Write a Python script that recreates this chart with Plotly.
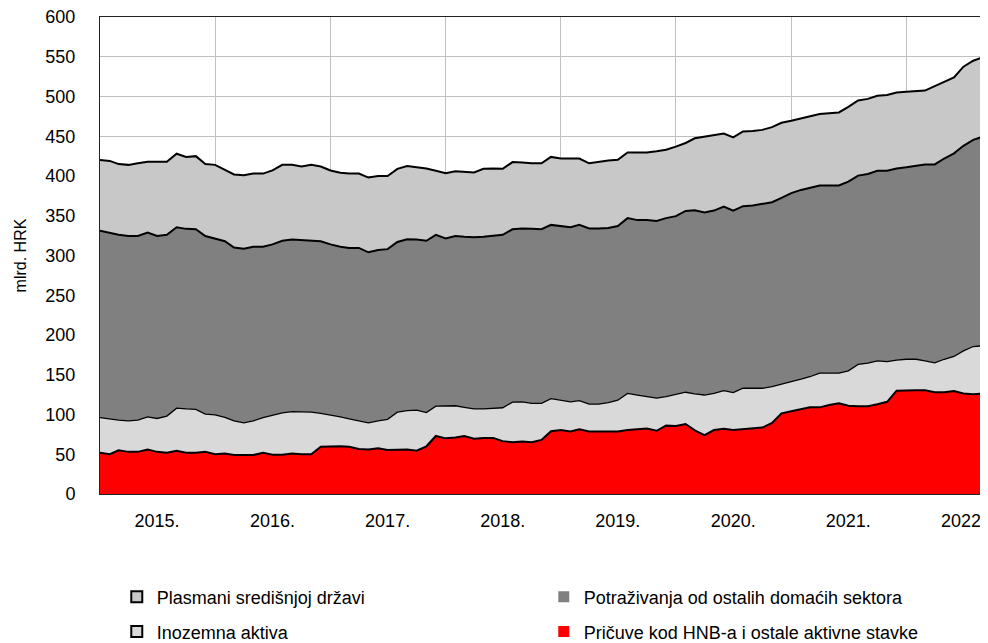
import pandas as pd
import plotly.graph_objects as go

# mjesečni podaci, mlrd. HRK (od siječnja 2015.)
POCETAK = "2015-01-01"

pricuve = [
    52, 50, 55, 53, 53, 56, 53, 52, 54.5, 52,
    52, 53, 50, 51, 49, 49, 49, 52, 49.5, 49.5,
    51, 50, 50, 59.5, 60, 60, 59.5, 56.5, 56, 57.5,
    55.5, 55.5, 56, 54.5, 60, 73, 70, 71, 73, 69.5,
    70.5, 70.5, 66.5, 65, 66, 65, 68, 79, 80.5, 78.5,
    81.5, 78.5, 78.5, 78.5, 78.5, 80.5, 81.5, 82.5, 79.5, 86,
    85.5, 88, 80, 74, 80.5, 82, 80.5, 81.5, 82, 83.5,
    89.5, 101.5, 104, 106.5, 109, 109, 112, 114, 111, 110.5,
    110.5, 113, 116, 130, 130.5, 130.5, 130.5, 128, 128, 129.5,
    126.5, 125.5, 126.5,
]
inozemna = [
    44, 44, 38, 39, 40, 41, 42, 46, 53.5, 55,
    54.5, 47.5, 49.5, 45.5, 43, 40.5, 43, 44, 49, 52.5,
    52.5, 53, 53, 42, 39.5, 37, 35, 35.5, 33.5, 34.5,
    38.5, 47.5, 49, 51, 42.5, 37.5, 41, 40, 36, 37.5,
    36.5, 37, 42, 50.5, 50, 49, 46, 41, 37.5, 37.5,
    36, 34.5, 34.5, 36.5, 39.5, 46, 43, 40, 41, 36.5,
    40, 40, 46, 50.5, 46, 48, 47, 51.5, 51, 49.5,
    45.5, 37, 37.5, 38, 38.5, 43, 40, 38, 44, 52.5,
    54, 54.5, 50.5, 38.5, 39, 39, 37, 37, 41.5, 43.5,
    53.5, 60, 60,
]
potrazivanja = [
    235, 234, 233, 232.5, 231.5, 232, 229.5, 228, 227.5, 226.5,
    226.5, 224, 222, 221.5, 218, 219, 219, 215, 215.5, 216.5,
    216.5, 216.5, 216, 216.5, 214.5, 214, 215, 217.5, 214.5, 215,
    214, 214, 215.5, 214.5, 216, 215.5, 210.5, 213.5, 214.5, 216,
    216.5, 217.5, 217.5, 217.5, 218, 219.5, 219, 218.5, 219, 219.5,
    221, 221, 221, 219.5, 219, 220.5, 220, 222, 223, 224.5,
    224, 228, 231, 229.5, 230, 231.5, 229, 229, 230, 231.5,
    232, 234, 237, 238, 238, 236, 236, 236, 238, 237.5,
    238, 239, 240, 241, 241.5, 243, 247, 249.5, 252.5, 255.5,
    258, 260, 263,
]
plasmani = [
    89, 91, 89, 89.5, 91.5, 89, 93.5, 92, 92.5, 90.5,
    92, 90.5, 92.5, 90, 92, 92.5, 92, 92, 93, 95.5,
    94, 92.5, 95, 94, 93, 93, 93.5, 93.5, 94, 93,
    92, 92, 92, 91, 91, 80.5, 82, 81.5, 82, 81.5,
    85.5, 84.5, 83, 84.5, 83, 82.5, 83, 85.5, 85, 86.5,
    83.5, 82, 84, 85, 83.5, 82.5, 85, 85, 87.5, 86,
    87.5, 85.5, 90.5, 95.5, 95, 92, 92, 94, 93.5, 93.5,
    94.5, 94.5, 91, 90, 90, 90, 91, 92, 94, 94.5,
    94.5, 94.5, 95.5, 95.5, 95, 94, 93, 98.5, 96.5, 95.5,
    99.5, 99.5, 100,
]

godine = ["2015.", "2016.", "2017.", "2018.", "2019.", "2020.", "2021.", "2022."]
oznake_pozicije = ["2015-07-01", "2016-07-01", "2017-07-01", "2018-07-01",
                   "2019-07-01", "2020-07-01", "2021-07-01", "2022-07-01"]

mjeseci = pd.date_range(POCETAK, periods=len(pricuve), freq="MS")

FONT = "Liberation Sans, Arial, sans-serif"

serije = [
    ("Pričuve kod HNB-a i ostale aktivne stavke", pricuve, "#ff0000", 2),
    ("Inozemna aktiva", inozemna, "#d9d9d9", 1.3),
    ("Potraživanja od ostalih domaćih sektora", potrazivanja, "#808080", 2),
    ("Plasmani središnjoj državi", plasmani, "#c8c8c8", 2),
]

fig = go.Figure()
for ime, vrijednosti, boja, debljina in serije:
    fig.add_trace(go.Scatter(
        x=mjeseci, y=vrijednosti, name=ime, stackgroup="a",
        mode="lines", line=dict(color="black", width=debljina),
        fillcolor=boja, showlegend=False,
    ))

# legenda: dva reda po dvije stavke
legenda = [
    ("Plasmani središnjoj državi", "#c8c8c8", 2, "legend"),
    ("Potraživanja od ostalih domaćih sektora", "#808080", 0, "legend"),
    ("Inozemna aktiva", "#d9d9d9", 2, "legend2"),
    ("Pričuve kod HNB-a i ostale aktivne stavke", "#ff0000", 0, "legend2"),
]
for ime, boja, rub, leg in legenda:
    fig.add_trace(go.Scatter(
        x=[None], y=[None], name=ime, mode="markers", legend=leg,
        marker=dict(symbol="square", size=11, color=boja,
                    line=dict(color="black", width=rub)),
    ))

leg_stil = dict(orientation="h", xanchor="left", yanchor="middle",
                traceorder="normal",
                entrywidth=382, entrywidthmode="pixels",
                font=dict(family=FONT, size=18, color="black"),
                bgcolor="rgba(0,0,0,0)")

# stranica ima 8px ruba, pa je slika za toliko manja
fig.update_layout(
    width=980, height=635,
    margin=dict(l=92, r=5, t=9, b=149, autoexpand=False),
    paper_bgcolor="white", plot_bgcolor="white",
    font=dict(family=FONT, size=18, color="black"),
    legend=dict(x=0.019, y=-0.216, **leg_stil),
    legend2=dict(x=0.019, y=-0.289, **leg_stil),
    hovermode=False,
)

fig.update_xaxes(
    type="date", range=[mjeseci[0], mjeseci[-1]], automargin=False,
    tickmode="array", tickvals=oznake_pozicije, ticktext=godine,
    showgrid=False, ticks="", ticklabelstandoff=10,
    ticklabeloverflow="allow",
    minor=dict(tick0="2015-01-01", dtick="M12", showgrid=True,
               gridcolor="#c0c0c0", gridwidth=1, ticks=""),
    showline=True, mirror=True, linecolor="#222222", linewidth=1,
    zeroline=False,
)
fig.update_yaxes(
    range=[0, 600], dtick=50, tick0=0, automargin=False,
    showgrid=True, gridcolor="#c0c0c0", gridwidth=1,
    ticks="", ticklabelstandoff=20, ticklabeloverflow="allow",
    showline=True, mirror=True, linecolor="#222222", linewidth=1,
    zeroline=False,
    title=dict(text="mlrd. HRK", standoff=14, font=dict(size=16)),
)

fig.write_html("out.html")
